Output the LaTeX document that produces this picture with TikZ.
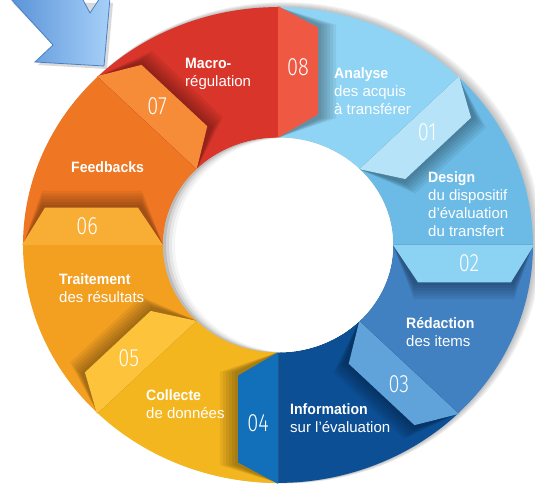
\documentclass[tikz,border=0pt]{standalone}
\usepackage{fontspec}
\setmainfont{Liberation Sans}[BoldFeatures={FakeStretch=0.94}]
\newfontfamily\numfont[FakeStretch=0.8]{Fira Sans Light}

% ring colours: body and tab of every step
\definecolor{seg1}{HTML}{8FD4F4}\definecolor{tab1}{HTML}{B6E3F8}
\definecolor{seg2}{HTML}{6CBBE6}\definecolor{tab2}{HTML}{8CD2F3}
\definecolor{seg3}{HTML}{4180C1}\definecolor{tab3}{HTML}{5FA3DA}
\definecolor{seg4}{HTML}{0C4F95}\definecolor{tab4}{HTML}{1170B9}
\definecolor{seg5}{HTML}{F4B61E}\definecolor{tab5}{HTML}{FCC33B}
\definecolor{seg6}{HTML}{F3A021}\definecolor{tab6}{HTML}{F8AE35}
\definecolor{seg7}{HTML}{EF7622}\definecolor{tab7}{HTML}{F68C37}
\definecolor{seg8}{HTML}{D9352A}\definecolor{tab8}{HTML}{EF5843}
\definecolor{arrowdark}{HTML}{5A93D8}
\definecolor{arrowlight}{HTML}{A6D0F8}
\definecolor{arrowline}{HTML}{4A80C8}

\tikzset{
  steptext/.style={text=white, font=\fontsize{15}{18}\selectfont, align=left, anchor=west, inner sep=0pt},
  stepnum/.style={text=white, font=\numfont\fontsize{25}{25}\selectfont, inner sep=0pt},
}

\begin{document}
\begin{tikzpicture}[x=1pt, y=1pt]
  \useasboundingbox (0,0) rectangle (535,485);
  \clip (0,0) rectangle (535,485);

  \begin{scope}[shift={(278,240)}, yscale=0.933]
    % soft shadow behind the ring
    \foreach \k in {1,...,6}
      \fill[black, opacity=0.045] (\k*1.0, \k*0.4) circle[radius=255+\k*0.5];

    % ring bodies, clockwise from the top
    \foreach \n in {1,...,8} {
      \pgfmathsetmacro{\a}{90-45*(\n-1)}
      \fill[seg\n] (\a:255) arc[start angle=\a, end angle=\a-45.5, radius=255]
        -- ({\a-45.5}:115) arc[start angle=\a-45.5, end angle=\a, radius=115] -- cycle;
    }

    % fold shadows next to every tab
    \begin{scope}
      \clip (0,0) circle[radius=255];
      \foreach \n in {1,...,8} {
        \pgfmathsetmacro{\a}{90-45*\n}
        \begin{scope}[rotate=\a]
          \foreach \k in {1,...,6}
            \fill[black, opacity=0.06] (115,0) -- (255,0) -- (236,-40-3*\k) -- (136,-40-3*\k) -- cycle;
        \end{scope}
      }
    \end{scope}

    % numbered tabs
    \foreach \n in {1,...,8} {
      \pgfmathsetmacro{\a}{90-45*\n}
      \begin{scope}[rotate=\a]
        \fill[tab\n] (115,0) -- (256,0) -- (233,-40) -- (140,-40) -- cycle;
        \node[stepnum] (num\n) at (191,-20) {0\n};
      \end{scope}
    }

    % hole with its inner shadow
    \begin{scope}
      \clip (0,0) circle[radius=115];
      \fill[black!26] (0,0) circle[radius=115];
      \foreach \s/\c in {3/black!16, 6/black!9, 9/black!4, 12/white}
        \fill[\c] (\s,0) circle[radius=115];
    \end{scope}
  \end{scope}

  % step labels
  \node[steptext] (macro) at (185,411) {\textbf{Macro-}\\régulation};
  \node[steptext] (analyse) at (334,394) {\textbf{Analyse}\\des acquis\\à transférer};
  \node[steptext] (design) at (428,281) {\textbf{Design}\\du dispositif\\d’évaluation\\du transfert};
  \node[steptext] (redaction) at (406,153) {\textbf{Rédaction}\\des items};
  \node[steptext] (information) at (290,67) {\textbf{Information}\\sur l’évaluation};
  \node[steptext] (collecte) at (146,81) {\textbf{Collecte}\\de données};
  \node[steptext] (traitement) at (59,197) {\textbf{Traitement}\\des résultats};
  \node[steptext] (feedbacks) at (71,318) {\textbf{Feedbacks}};

  % entry arrow in the corner
  \fill[black, opacity=0.15] (13,482) -- (56,437) -- (38,420) -- (107,416) -- (113,482) -- cycle;
  \shade[left color=arrowdark, right color=arrowlight, draw=arrowline, line width=0.8pt]
    (10,487) -- (53,440) -- (35,423) -- (104,419) -- (110,487) -- (100,487)
    -- (90,472) -- (82,487) -- cycle;
\end{tikzpicture}
\end{document}
